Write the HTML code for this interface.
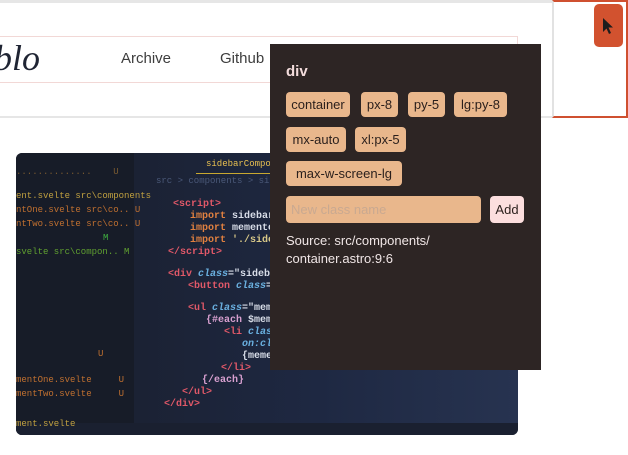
<!DOCTYPE html>
<html><head><meta charset="utf-8"><style>
*{margin:0;padding:0;box-sizing:border-box}
body{width:628px;height:455px;overflow:hidden;background:#fff;position:relative;font-family:"Liberation Sans",sans-serif}
.abs{position:absolute}
.tag{position:absolute;height:25px;background:#e9b78c;border-radius:4px;font-size:13px;color:#2a1f1c;line-height:25px;text-align:center}
.code{position:absolute;font-family:"Liberation Mono",monospace;font-size:10px;font-weight:bold;white-space:pre;line-height:11px}
</style></head><body>
<div class="abs" style="left:0;top:0;width:552px;height:3px;background:#e6e6e6"></div>
<div class="abs" style="left:-5px;top:36px;width:523px;height:47px;border:1px solid #f2d8d6;border-left:none"></div>
<div class="abs" style="left:-24px;top:38px;font-family:'Liberation Serif',serif;font-style:italic;font-size:36px;color:#1f2433;line-height:40px;letter-spacing:0px">ablo</div>
<div class="abs" style="left:121px;top:50px;font-size:15px;color:#3d3d3d;font-weight:500">Archive</div>
<div class="abs" style="left:220px;top:50px;font-size:15px;color:#3d3d3d">Github</div>
<div class="abs" style="left:0;top:116px;width:552px;height:2px;background:#e6e6e6"></div>
<div class="abs" style="left:552px;top:0;width:76px;height:118px;border:2px solid #cf5030;border-left:2px solid #e2e2e2"></div>
<div class="abs" style="left:594px;top:4px;width:29px;height:43px;background:#d2522f;border-radius:5px"></div>
<svg class="abs" style="left:601px;top:17px" width="14" height="18"><path d="M2 1 L2 15 L5.5 11.5 L8 17 L10 16 L7.5 10.5 L12 10.5 Z" fill="#1d1d1d"/></svg>

<div class="abs" style="left:16px;top:153px;width:502px;height:282px;border-radius:6px;overflow:hidden;background:linear-gradient(90deg,#161c2c 0%,#1b2234 25%,#1e2842 60%,#273350 100%)">
 <div class="abs" style="left:0;top:0;width:118px;height:282px;background:#171c28"></div>
 <div class="abs" style="left:0;top:270px;width:502px;height:12px;background:#1a2030"></div>
 <div class="code" style="left:190px;top:6px;color:#e8c050;font-weight:normal;font-size:9px">sidebarCompo</div>
 <div class="abs" style="left:180px;top:20px;width:100px;height:1px;background:#c8a830"></div>
 <div class="code" style="left:140px;top:23px;color:#4a5878;font-weight:normal;font-size:9px">src &gt; components &gt; sidebar &gt;</div>
 <div class="code" style="left:157px;top:46px;color:#e05868">&lt;script&gt;</div>
 <div class="code" style="left:174px;top:58px;color:#e08040">import <span style="color:#d8dde8">sidebarCom</span></div>
 <div class="code" style="left:174px;top:70px;color:#e08040">import <span style="color:#d8dde8">mementoes</span></div>
 <div class="code" style="left:174px;top:82px;color:#e08040">import <span style="color:#d8c888">'./sidebar</span></div>
 <div class="code" style="left:152px;top:94px;color:#e05868">&lt;/script&gt;</div>
 <div class="code" style="left:152px;top:116px;color:#e05868">&lt;div <i style="color:#6ab0e0">class</i><span style="color:#d8dde8">="sidebar"&gt;</span></div>
 <div class="code" style="left:172px;top:128px;color:#e05868">&lt;button <i style="color:#6ab0e0">class</i><span style="color:#d8dde8">="ad</span></div>
 <div class="code" style="left:172px;top:150px;color:#e05868">&lt;ul <i style="color:#6ab0e0">class</i><span style="color:#d8dde8">="mement</span></div>
 <div class="code" style="left:190px;top:162px;color:#d8a0d0">{#each <span style="color:#d8dde8">$mement</span></div>
 <div class="code" style="left:208px;top:174px;color:#e05868">&lt;li <i style="color:#6ab0e0">class=</i></div>
 <div class="code" style="left:226px;top:186px;color:#6ab0e0"><i>on:cli</i></div>
 <div class="code" style="left:226px;top:198px;color:#d8dde8">{memen</div>
 <div class="code" style="left:205px;top:210px;color:#e05868">&lt;/li&gt;</div>
 <div class="code" style="left:186px;top:222px;color:#d8a0d0">{/each}</div>
 <div class="code" style="left:166px;top:234px;color:#e05868">&lt;/ul&gt;</div>
 <div class="code" style="left:148px;top:246px;color:#e05868">&lt;/div&gt;</div>
 <div class="code" style="left:0;top:14px;color:#7a5a30;font-weight:normal;font-size:9px">..............    U</div>
 <div class="code" style="left:0;top:38px;color:#c0a040;font-weight:normal;font-size:9px">ent.svelte src\components</div>
 <div class="code" style="left:0;top:52px;color:#c07030;font-weight:normal;font-size:9px">ntOne.svelte src\co.. U</div>
 <div class="code" style="left:0;top:66px;color:#c07030;font-weight:normal;font-size:9px">ntTwo.svelte src\co.. U</div>
 <div class="code" style="left:87px;top:80px;color:#40b040;font-weight:normal;font-size:9px">M</div>
 <div class="code" style="left:0;top:94px;color:#60a030;font-weight:normal;font-size:9px">svelte src\compon.. M</div>
 <div class="code" style="left:82px;top:196px;color:#c07030;font-weight:normal;font-size:9px">U</div>
 <div class="code" style="left:0;top:222px;color:#c07030;font-weight:normal;font-size:9px">mentOne.svelte     U</div>
 <div class="code" style="left:0;top:236px;color:#c07030;font-weight:normal;font-size:9px">mentTwo.svelte     U</div>
 <div class="code" style="left:0;top:266px;color:#c0a040;font-weight:normal;font-size:9px">ment.svelte</div>
</div>

<div class="abs" style="left:270px;top:44px;width:271px;height:326px;background:#2d2524"></div>
<div class="abs" style="left:286px;top:63px;font-size:15px;font-weight:bold;color:#f3dcdc">div</div>
<div class="tag" style="left:286px;top:92px;width:64px">container</div>
<div class="tag" style="left:361px;top:92px;width:37px">px-8</div>
<div class="tag" style="left:408px;top:92px;width:37px">py-5</div>
<div class="tag" style="left:454px;top:92px;width:53px">lg:py-8</div>
<div class="tag" style="left:286px;top:127px;width:60px">mx-auto</div>
<div class="tag" style="left:355px;top:127px;width:51px">xl:px-5</div>
<div class="tag" style="left:286px;top:161px;width:116px">max-w-screen-lg</div>
<div class="tag" style="left:286px;top:196px;width:195px;height:27px;line-height:27px;text-align:left;padding-left:5px;color:#c9a991">New class name</div>
<div class="tag" style="left:490px;top:196px;width:34px;height:27px;line-height:27px;background:#fcdede">Add</div>
<div class="abs" style="left:286px;top:232px;font-size:13px;color:#f0e6e6;line-height:18px">Source: src/components/<br>container.astro:9:6</div>
</body></html>
